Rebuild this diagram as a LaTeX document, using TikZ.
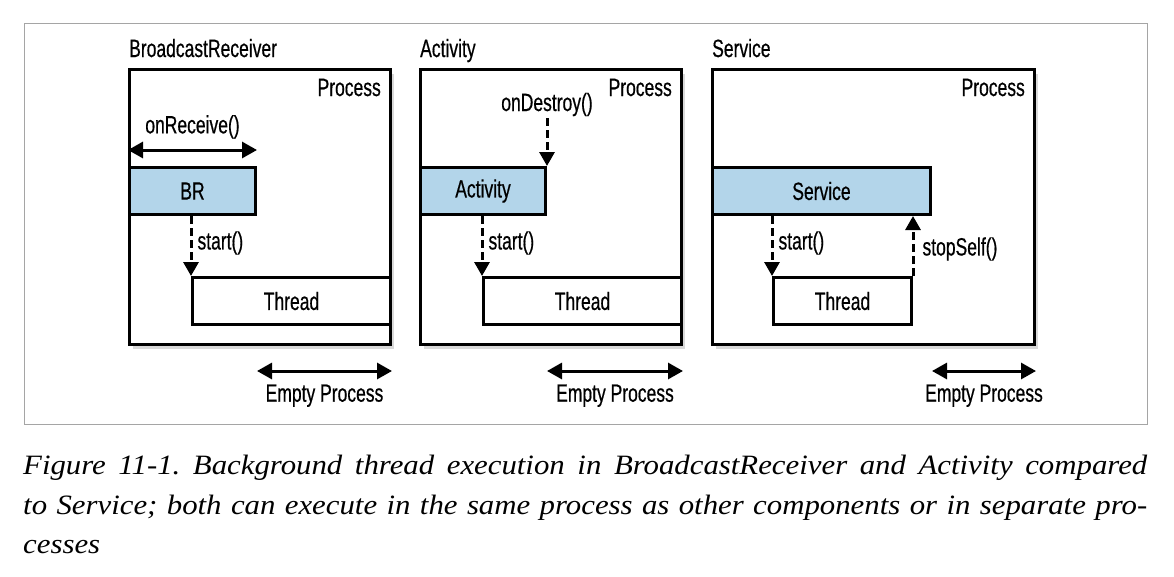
\documentclass[tikz,border=0pt]{standalone}
\usepackage{fontspec}
\setmainfont{Liberation Serif}
\setsansfont{Liberation Sans}[FakeStretch=0.7,FakeBold=0.5]
\newfontfamily\capfont{Liberation Serif}[FakeStretch=1.1]
\usetikzlibrary{positioning,shadows,arrows.meta}
\definecolor{compblue}{RGB}{179,213,234}
\definecolor{framegray}{RGB}{165,165,165}

\begin{document}
\begin{tikzpicture}[x=1pt,y=-1pt,
  lbl/.style={inner sep=2pt,font=\sffamily\fontsize{25}{30}\selectfont},
  proc/.style={draw,line width=3pt,fill=white,minimum height=275pt,anchor=north west,inner sep=0pt,
    drop shadow={shadow xshift=3pt,shadow yshift=-4pt,opacity=0.3}},
  comp/.style={lbl,draw,line width=3pt,fill=compblue,minimum height=47pt,anchor=north west},
  thrd/.style={lbl,draw,line width=3pt,fill=white,minimum height=47pt,anchor=north west},
  dblarrow/.style={line width=3pt,{Triangle[length=15pt,width=16pt]}-{Triangle[length=15pt,width=16pt]}},
  dasharrow/.style={line width=3pt,dash pattern=on 8pt off 4pt,-{Triangle[length=14pt,width=15pt]}},
  captext/.style={anchor=base west,inner sep=0pt,font=\capfont\itshape\frenchspacing\fontsize{28}{34}\selectfont}]
\useasboundingbox (0,0) rectangle (1174,576);

\node[draw=framegray,line width=1.4pt,minimum width=1123pt,minimum height=401pt,anchor=north west,inner sep=0pt] (frame) at (24,23) {};

% process boxes, titles and labels
\foreach \nm/\x/\w/\ttl in {br/128/261/BroadcastReceiver, act/419/261/Activity, sv/711/322/Service} {
    \node[proc,minimum width=\w pt] (\nm proc) at (\x,68) {};
    \node[lbl,anchor=base west,inner sep=0pt] (\nm title) at ([xshift=1pt,yshift=11pt]\nm proc.north west) {\ttl};
    \node[lbl,anchor=base east,inner sep=0pt] (\nm plbl) at ([xshift=-11pt,yshift=-28pt]\nm proc.north east) {Process};
}

% components
\node[comp,minimum width=126pt] (br) at ([yshift=-98pt]brproc.north west) {BR};
\node[comp,minimum width=125pt] (act) at ([yshift=-98pt]actproc.north west) {Activity};
\node[comp,minimum width=218pt] (sv) at ([yshift=-98pt]svproc.north west) {Service};

% threads
\node[thrd,minimum width=198pt] (brthread) at ([xshift=63pt,yshift=-208pt]brproc.north west) {Thread};
\node[thrd,minimum width=198pt] (actthread) at ([xshift=63pt,yshift=-208pt]actproc.north west) {Thread};
\node[thrd,minimum width=138pt] (svthread) at ([xshift=61pt,yshift=-208pt]svproc.north west) {Thread};

% calls
\draw[dblarrow] ([yshift=16pt]br.north west) -- node[lbl,above=8pt] (brrecv) {onReceive()} ([yshift=16pt]br.north east);
\node[lbl,anchor=base] (actdestroy) at ([yshift=55pt]act.north east) {onDestroy()};
\draw[dasharrow] (actdestroy.south) -- (act.north east);

\foreach \nm in {br,act,sv} {
    \draw[dasharrow] (\nm thread.north west |- \nm.south) -- node[lbl,right=3pt,pos=0.45] {start()} (\nm thread.north west);
}
\draw[dasharrow] (svthread.north east) -- node[lbl,right=6pt,pos=0.45] (svstop) {stopSelf()} (svthread.north east |- sv.south);

% empty process
\foreach \nm in {br,act,sv} {
    \coordinate (\nm ea) at ([yshift=-25pt]\nm proc.south east);
    \coordinate (\nm eb) at (\nm ea -| \nm.east);
    \draw[dblarrow] (\nm eb) -- node[lbl,below=10pt] {Empty Process} (\nm ea);
}

% caption
\node[captext] (cap1) at (23,474)
    {\makebox[1124pt][s]{Figure 11-1. Background thread execution in BroadcastReceiver and Activity compared}};
\node[captext] (cap2) at (23,514)
    {\makebox[1124pt][s]{to Service; both can execute in the same process as other components or in separate pro-}};
\node[captext] (cap3) at (23,553) {cesses};
\end{tikzpicture}
\end{document}
